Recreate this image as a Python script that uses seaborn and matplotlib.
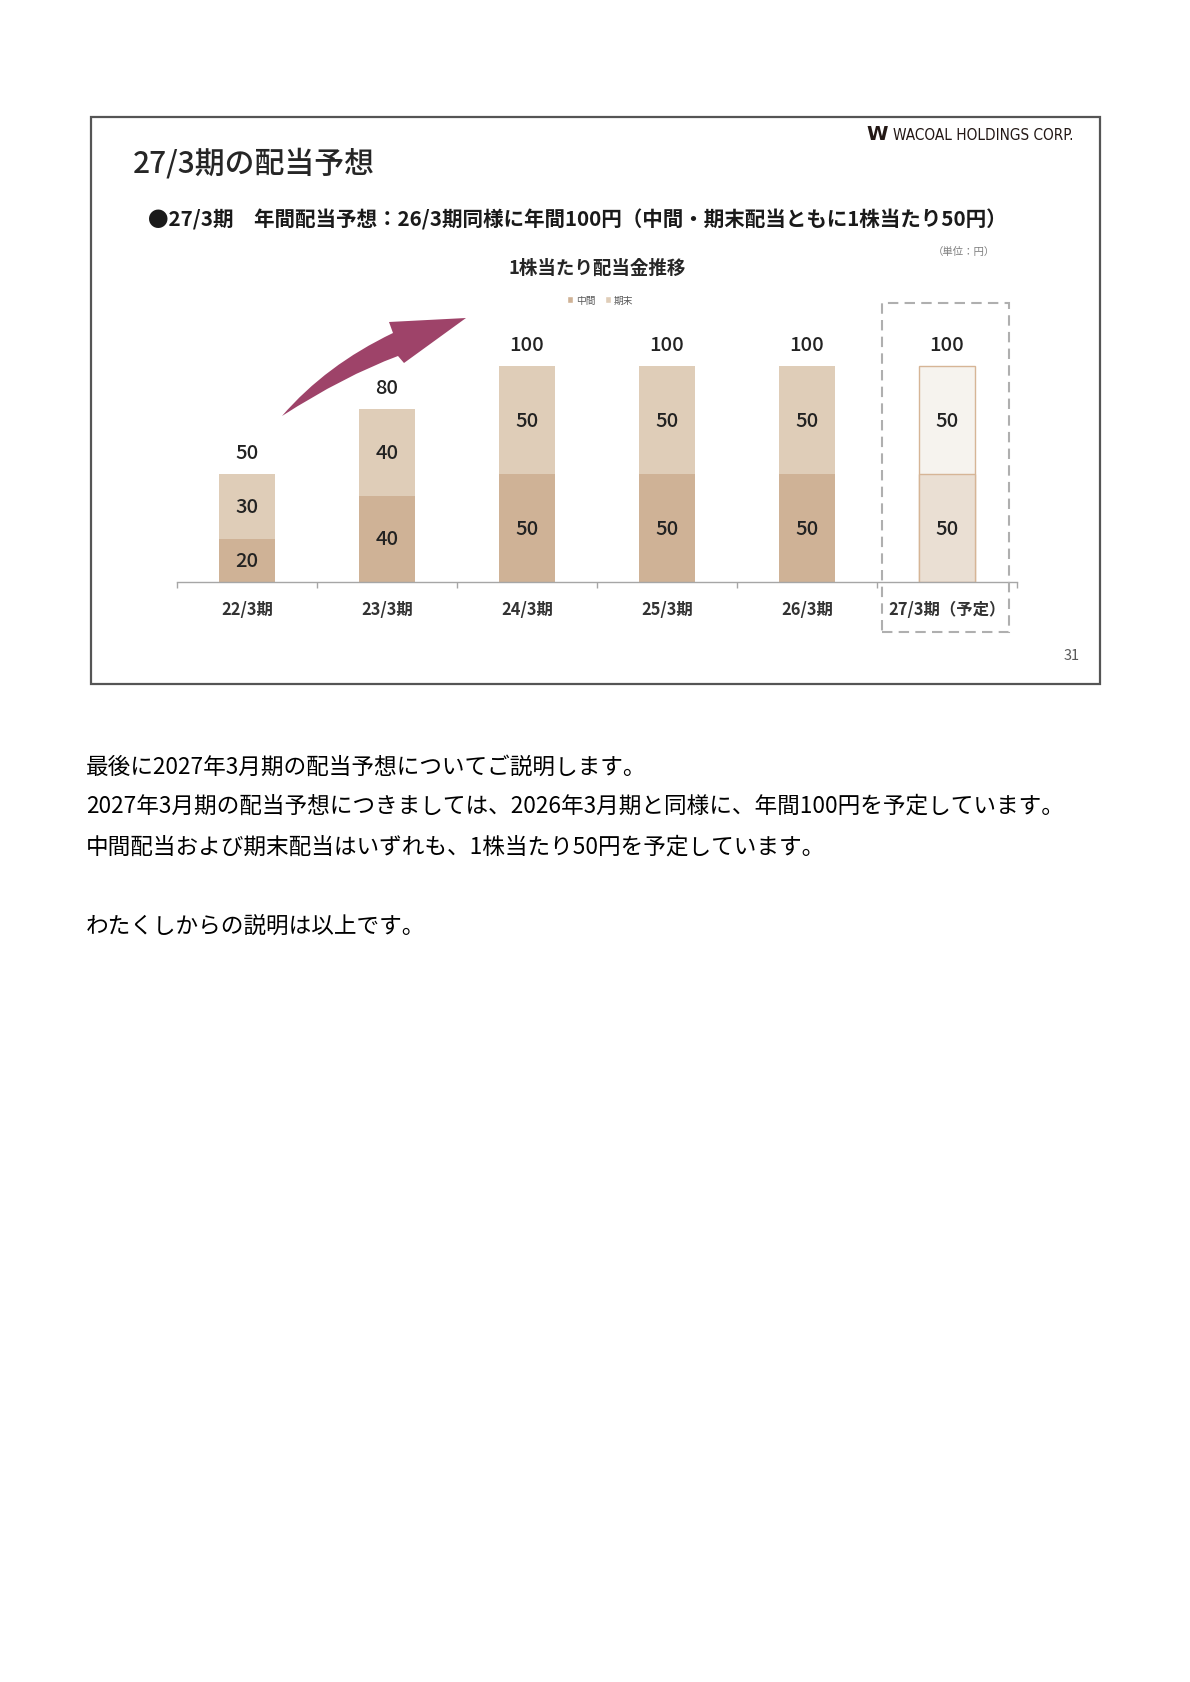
import seaborn as sns
import matplotlib.pyplot as plt
import pandas as pd
import numpy as np
from matplotlib.patches import Rectangle, Patch, PathPatch
from matplotlib.path import Path

# data
periods = ["22/3期", "23/3期", "24/3期", "25/3期", "26/3期", "27/3期（予定）"]
interim = [20, 40, 50, 50, 50, 50]
year_end = [30, 40, 50, 50, 50, 50]
totals = [a + b for a, b in zip(interim, year_end)]

body_lines = [
    "最後に2027年3月期の配当予想についてご説明します。",
    "2027年3月期の配当予想につきましては、2026年3月期と同様に、年間100円を予定しています。",
    "中間配当および期末配当はいずれも、1株当たり50円を予定しています。",
    "",
    "わたくしからの説明は以上です。",
]

W, H = 1190, 1683
sns.set_theme(style="white")
plt.rcParams['font.family'] = ['Noto Sans CJK JP', 'DejaVu Sans']

c_interim = "#CFB296"
c_end = "#DFCDB8"
c_fc_interim = "#EADFD3"
c_fc_end = "#F6F3EE"
c_fc_edge = "#D6B596"

df = pd.DataFrame({"period": periods, "interim": interim, "total": totals})

fig = plt.figure(figsize=(W / 100, H / 100), dpi=100)


def fx(px):
    return px / W


def fy(py):
    return 1 - py / H


# chart axes: baseline at y=583px, axis spans 177..1017px
ax = fig.add_axes([fx(177), fy(583), fx(840), 130 * 2.157 / H])

end_pal = [c_end] * 5 + [c_fc_end]
int_pal = [c_interim] * 5 + [c_fc_interim]
sns.barplot(data=df, x="period", y="total", hue="period", palette=end_pal,
            width=0.4, legend=False, ax=ax, saturation=1)
sns.barplot(data=df, x="period", y="interim", hue="period", palette=int_pal,
            width=0.4, legend=False, ax=ax, saturation=1)
for p in ax.patches:
    p.set_linewidth(0)
# forecast bar gets an outline
n = len(periods)
for idx in (n - 1, 2 * n - 1):
    ax.patches[idx].set_edgecolor(c_fc_edge)
    ax.patches[idx].set_linewidth(1.0)

ax.set_xlim(-0.5, n - 0.5)
ax.set_ylim(0, 130)
ax.set_xlabel("")
ax.set_ylabel("")
ax.set_yticks([])
for s in ("left", "right", "top"):
    ax.spines[s].set_visible(False)
ax.spines["bottom"].set_color("#A6A6A6")
ax.spines["bottom"].set_linewidth(1.0)
ax.set_xticks(range(n))
ax.set_xticklabels(periods, fontsize=11.8, fontweight="bold", color="#333333")
ax.tick_params(axis="x", which="major", length=0, pad=13)
ax.set_xticks(np.arange(-0.5, n, 1), minor=True)
ax.tick_params(axis="x", which="minor", length=4, direction="out",
               color="#A6A6A6", width=1.0, bottom=True)

lbl_col = "#222222"
for i in range(n):
    ax.text(i, interim[i] / 2, str(interim[i]), ha="center", va="center",
            fontsize=14.5, fontweight="medium", color=lbl_col)
    ax.text(i, interim[i] + year_end[i] / 2, str(year_end[i]), ha="center",
            va="center", fontsize=14.5, fontweight="medium", color=lbl_col)
    ax.text(i, totals[i] + 10, str(totals[i]), ha="center", va="center",
            fontsize=14.5, fontweight="medium", color=lbl_col)

# slide frame
fig.add_artist(Rectangle((fx(91), fy(685)), fx(1009), (685 - 118) / H,
                         transform=fig.transFigure, fill=False,
                         edgecolor="#555555", linewidth=1.6))

# dashed forecast box
fig.add_artist(Rectangle((fx(882), fy(633)), fx(127), (633 - 304) / H,
                         transform=fig.transFigure, fill=False,
                         edgecolor="#AFAFAF", linewidth=1.5,
                         linestyle=(0, (5, 3))))

# curved growth arrow
pts = [(282, 417), (326, 366), (393, 334), (389, 323), (466, 319),
       (404, 364), (398, 357), (344, 377), (282, 417)]
codes = [Path.MOVETO, Path.CURVE3, Path.CURVE3, Path.LINETO, Path.LINETO,
         Path.LINETO, Path.LINETO, Path.CURVE3, Path.CURVE3]
verts = [(fx(x), fy(y)) for x, y in pts]
fig.add_artist(PathPatch(Path(verts, codes), transform=fig.transFigure,
                         facecolor="#9E4369", edgecolor="none"))

# texts
fig.text(fx(133), fy(164), "27/3期の配当予想", fontsize=21.5,
         fontweight="medium", color="#262626", va="center", ha="left")
fig.text(fx(148), fy(220),
         "●27/3期　年間配当予想：26/3期同様に年間100円（中間・期末配当ともに1株当たり50円）",
         fontsize=14.8, fontweight="bold", color="#1a1a1a", va="center", ha="left")
fig.text(fx(995), fy(252), "（単位：円）", fontsize=7.5, color="#7f7f7f",
         va="center", ha="right")
fig.text(fx(597), fy(268), "1株当たり配当金推移", fontsize=13.3,
         fontweight="bold", color="#262626", va="center", ha="center")
fig.text(fx(1072), fy(656), "31", fontsize=10.5, color="#595959",
         va="center", ha="center")

# logo
fig.text(fx(866), fy(135), "W", fontsize=14, fontweight="heavy",
         color="#231815", va="center", ha="left", family="DejaVu Sans")
fig.text(fx(893), fy(135), "WACOAL HOLDINGS CORP.", fontsize=11,
         color="#231815", va="center", ha="left",
         family="DejaVu Sans", stretch="condensed")

# legend
handles = [Patch(facecolor=c_interim, label="中間"),
           Patch(facecolor=c_end, label="期末")]
fig.legend(handles=handles, loc="center", bbox_to_anchor=(fx(600), fy(301)),
           ncol=2, frameon=False, fontsize=7, handlelength=0.6,
           handleheight=0.6, handletextpad=0.3, columnspacing=1.0,
           labelcolor="#595959")

# body text below slide
body_y = [767, 806, 847, 886, 926]
for yy, line in zip(body_y, body_lines):
    if line:
        fig.text(fx(86), fy(yy), line, fontsize=16.3, color="#000000",
                 va="center", ha="left")

fig.savefig("out.png", dpi=100)
